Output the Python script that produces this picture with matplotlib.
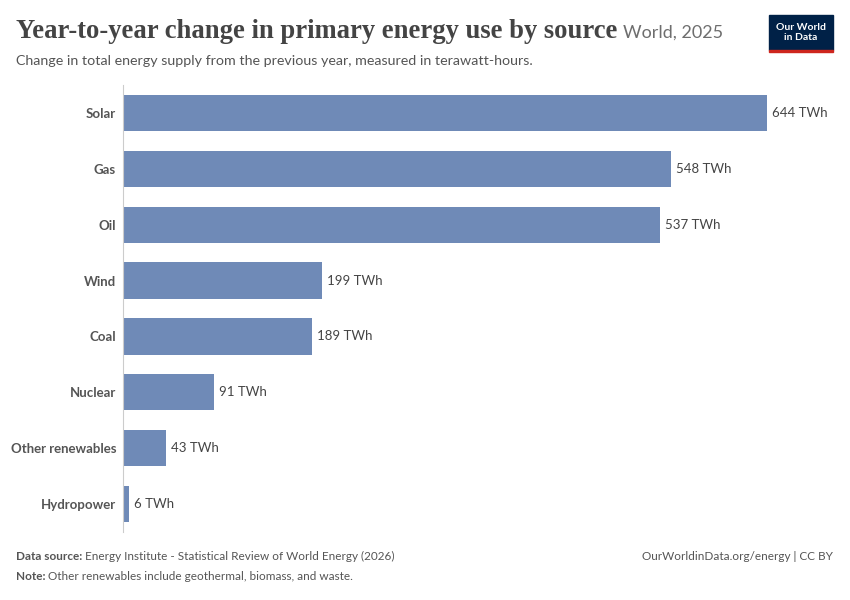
import matplotlib
matplotlib.use("Agg")
import matplotlib.pyplot as plt
from matplotlib.patches import Rectangle

categories = ["Solar", "Gas", "Oil", "Wind", "Coal", "Nuclear", "Other renewables", "Hydropower"]
values = [644, 548, 537, 199, 189, 91, 43, 6]

W, H = 850, 600
fig = plt.figure(figsize=(8.5, 6), dpi=100)
plt.rcParams['font.family'] = ['Lato', 'DejaVu Sans']

top_px, bot_px, left_px, width_px = 85, 532, 123, 700
ax = fig.add_axes([left_px / W, 1 - bot_px / H, width_px / W, (bot_px - top_px) / H])
y = list(range(len(categories)))
ax.barh(y, values, height=0.65, color="#6f8ab7")
ax.set_xlim(0, width_px)
ax.set_ylim(len(categories) - 0.5, -0.5)
for yi, v in zip(y, values):
    ax.text(v + 5, yi, f"{v} TWh", va="center", ha="left", fontsize=9.5, color="#444")
ax.set_yticks(y)
ax.set_yticklabels(categories, fontsize=9.5, fontweight="bold", color="#555")
ax.tick_params(axis="y", length=0, pad=5)
ax.set_xticks([])
for s in ["top", "right", "bottom"]:
    ax.spines[s].set_visible(False)
ax.spines["left"].set_color("#ccc")

t = fig.text(16 / W, 1 - 32 / H, "Year-to-year change in primary energy use by source",
             family="Liberation Serif", fontweight="bold", fontsize=19.2, color="#444", va="center", ha="left")
r = fig.canvas.get_renderer()
bb = t.get_window_extent(r)
fig.text((bb.x1 + 6) / W, 1 - 33 / H, "World, 2025", fontsize=13, color="#6e6e6e", va="center")
fig.text(16 / W, 1 - 61 / H, "Change in total energy supply from the previous year, measured in terawatt-hours.",
         fontsize=10.3, color="#555", va="center")

def label_pair(x, ypx, bold, rest):
    a = fig.text(x / W, 1 - ypx / H, bold, fontsize=8.5, fontweight="bold", color="#555", va="center")
    b = a.get_window_extent(r)
    fig.text((b.x1 + 3) / W, 1 - ypx / H, rest, fontsize=8.5, color="#555", va="center")

label_pair(16, 556, "Data source:", "Energy Institute - Statistical Review of World Energy (2026)")
label_pair(16, 577, "Note:", "Other renewables include geothermal, biomass, and waste.")
fig.text(833 / W, 1 - 556 / H, "OurWorldinData.org/energy | CC BY", fontsize=8.5, color="#555",
         va="center", ha="right")

fig.patches.append(Rectangle((769 / W, 1 - 50 / H), 64 / W, 35 / H, transform=fig.transFigure,
                             color="#002147", zorder=5))
fig.patches.append(Rectangle((769 / W, 1 - 52 / H), 64 / W, 2.5 / H, transform=fig.transFigure,
                             color="#ce261e", zorder=5))
fig.text(801 / W, 1 - 32.5 / H, "Our World\nin Data", fontsize=7.5, fontweight="bold", color="white",
         ha="center", va="center", zorder=6, linespacing=1.1)

fig.savefig("out.png", dpi=100, facecolor="white")
